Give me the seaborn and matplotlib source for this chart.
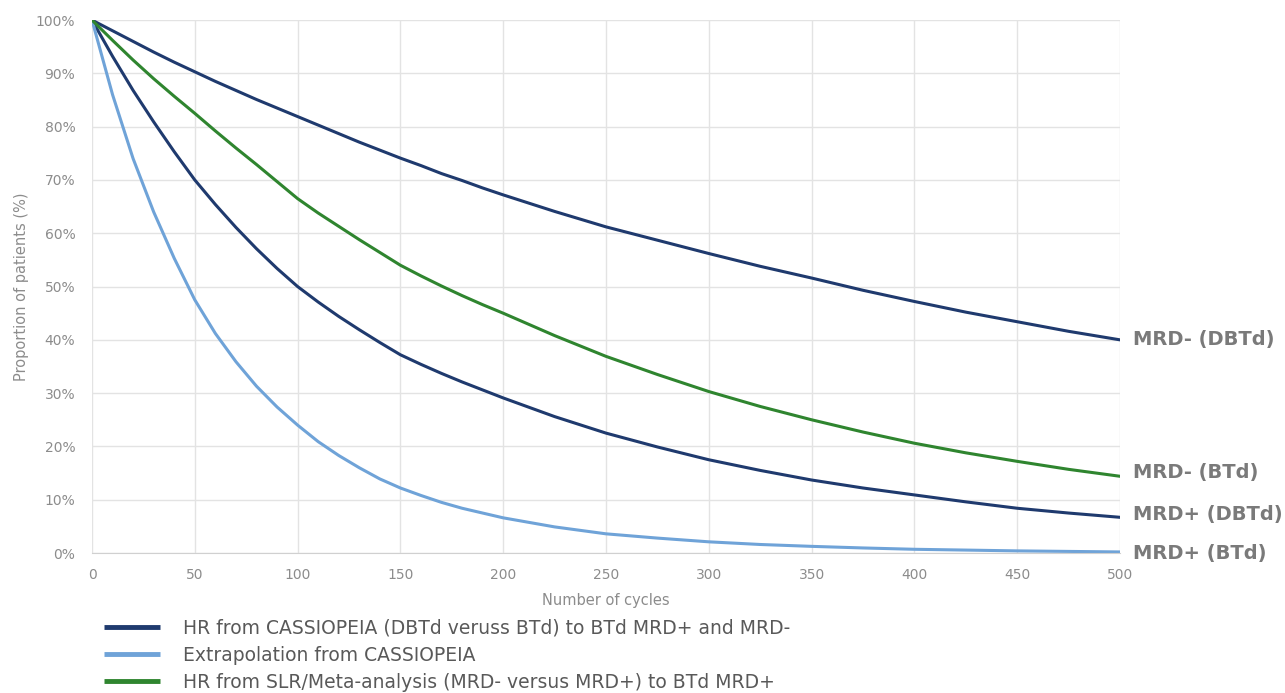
import matplotlib
matplotlib.use("Agg")
import matplotlib.pyplot as plt
import numpy as np
import pandas as pd
import seaborn as sns

# ── Data ───────────────────────────────────────────────────────────────────────
cycles = [0, 10, 20, 30, 40, 50, 60, 70, 80, 90, 100,
          110, 120, 130, 140, 150, 160, 170, 180, 190, 200,
          225, 250, 275, 300, 325, 350, 375, 400, 425, 450, 475, 500]

mrd_neg_dbtd = [100, 98.0, 96.0, 94.0, 92.1, 90.3, 88.5, 86.8, 85.1, 83.5, 81.9,
                80.3, 78.7, 77.1, 75.6, 74.1, 72.7, 71.2, 69.9, 68.5, 67.2,
                64.1, 61.2, 58.7, 56.2, 53.8, 51.6, 49.3, 47.2, 45.2, 43.4, 41.6, 40.0]
mrd_pos_dbtd = [100, 93.2, 86.8, 80.9, 75.3, 70.0, 65.4, 61.1, 57.1, 53.4, 50.0,
                47.1, 44.4, 41.9, 39.5, 37.2, 35.4, 33.7, 32.1, 30.6, 29.1,
                25.6, 22.5, 19.9, 17.5, 15.5, 13.7, 12.2, 10.9, 9.6, 8.4, 7.5, 6.7]
mrd_neg_btd = [100, 96.2, 92.5, 89.0, 85.7, 82.5, 79.2, 76.0, 72.9, 69.7, 66.5,
               63.8, 61.3, 58.8, 56.4, 54.0, 52.0, 50.1, 48.3, 46.6, 45.0,
               40.8, 36.9, 33.5, 30.3, 27.5, 25.0, 22.7, 20.6, 18.8, 17.2, 15.7, 14.4]
mrd_pos_btd = [100, 86.0, 74.0, 64.0, 55.3, 47.5, 41.2, 35.9, 31.3, 27.4, 24.0,
               20.9, 18.3, 16.0, 13.9, 12.2, 10.8, 9.5, 8.4, 7.5, 6.6,
               4.9, 3.6, 2.8, 2.1, 1.6, 1.25, 0.95, 0.7, 0.55, 0.4, 0.3, 0.2]

curve_names = ["MRD- (DBTd)", "MRD- (BTd)", "MRD+ (DBTd)", "MRD+ (BTd)"]
sources = [
    "HR from CASSIOPEIA (DBTd veruss BTd) to BTd MRD+ and MRD-",
    "Extrapolation from CASSIOPEIA",
    "HR from SLR/Meta-analysis (MRD- versus MRD+) to BTd MRD+",
]
curve_source = {
    "MRD- (DBTd)": sources[0],
    "MRD+ (DBTd)": sources[0],
    "MRD+ (BTd)": sources[1],
    "MRD- (BTd)": sources[2],
}
curve_values = {
    "MRD- (DBTd)": mrd_neg_dbtd,
    "MRD- (BTd)": mrd_neg_btd,
    "MRD+ (DBTd)": mrd_pos_dbtd,
    "MRD+ (BTd)": mrd_pos_btd,
}

# ── Style ──────────────────────────────────────────────────────────────────────
NAVY  = "#1F3A6E"
LIGHT = "#6FA3D8"
GREEN = "#2F852F"
palette = {sources[0]: NAVY, sources[1]: LIGHT, sources[2]: GREEN}
TICK_GREY = "#8C8C8C"

rows = []
for name in curve_names:
    for c, v in zip(cycles, curve_values[name]):
        rows.append({"cycles": c, "prop": v / 100, "curve": name, "source": curve_source[name]})
df = pd.DataFrame(rows)

sns.set_style("white")
plt.rcParams["font.family"] = ["DejaVu Sans"]

fig = plt.figure(figsize=(12.85, 6.93), dpi=100)
ax = fig.add_axes([0.0716, 0.202, 0.8, 0.769])

sns.lineplot(data=df, x="cycles", y="prop", hue="source", units="curve",
             estimator=None, palette=palette, hue_order=sources,
             linewidth=2.2, ax=ax, legend=False)

ax.set_xlim(0, 500)
ax.set_ylim(0, 1.0)
ax.set_xticks(np.arange(0, 501, 50))
ax.set_yticks(np.arange(0, 1.01, 0.1))
ax.set_yticklabels([f"{int(round(t * 100))}%" for t in np.arange(0, 1.01, 0.1)])
ax.grid(True, color="#E3E3E3", linewidth=1.0)
ax.set_axisbelow(True)
for side in ["top", "right", "left"]:
    ax.spines[side].set_visible(False)
ax.spines["bottom"].set_color("#D0D0D0")
ax.tick_params(axis="x", length=0, labelsize=10, colors=TICK_GREY, pad=11)
ax.tick_params(axis="y", length=0, labelsize=10, colors=TICK_GREY, pad=12)
ax.set_xlabel("Number of cycles", fontsize=10.5, color=TICK_GREY, labelpad=8)
ax.set_ylabel("Proportion of patients (%)", fontsize=10.5, color=TICK_GREY, labelpad=5)

# end-of-curve labels
label_y = {"MRD- (DBTd)": 0.40, "MRD- (BTd)": 0.151, "MRD+ (DBTd)": 0.072, "MRD+ (BTd)": 0.0}
for name in curve_names:
    ax.annotate(name, xy=(500, label_y[name]), xytext=(9.5, 0), textcoords="offset points",
                fontsize=14, fontweight="bold", color="#7A7A7A", va="center", ha="left",
                annotation_clip=False)

# legend below the chart
handles = [plt.Line2D([0], [0], color=palette[s], linewidth=3.5, solid_capstyle="butt")
           for s in sources]
fig.legend(handles, sources, loc="upper left", bbox_to_anchor=(0.075, 0.118),
           frameon=False, fontsize=13.5, labelcolor="#595959", handlelength=3.0,
           handletextpad=1.2, labelspacing=0.43, borderaxespad=0)

fig.savefig("out.png", dpi=100)
plt.close(fig)
